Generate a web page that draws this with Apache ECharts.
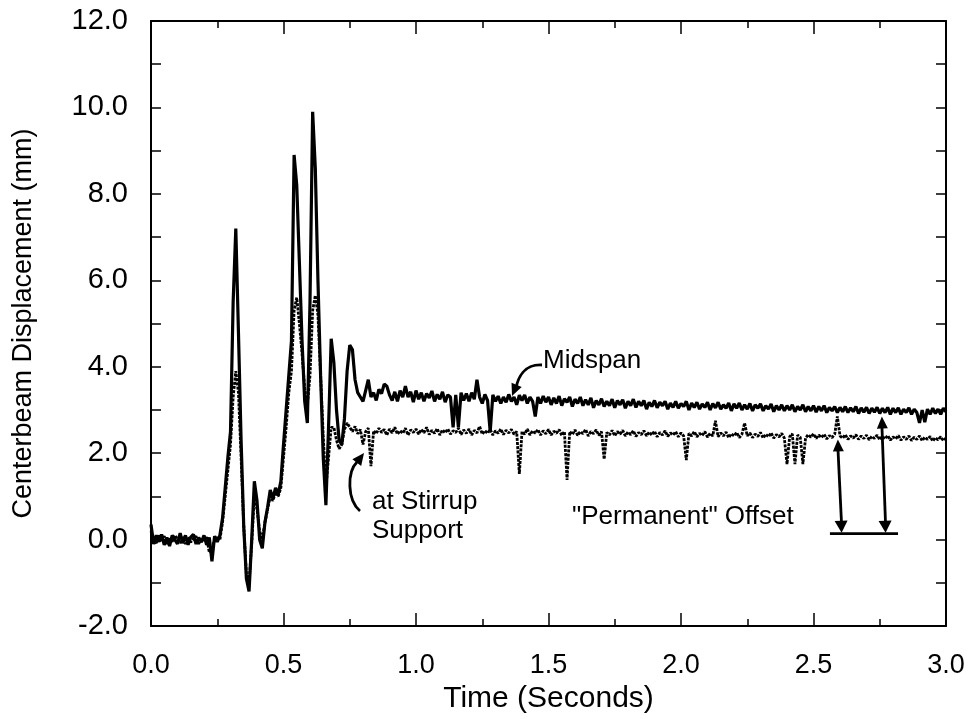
<!DOCTYPE html>
<html><head><meta charset="utf-8">
<script src="https://cdn.jsdelivr.net/npm/echarts@6/dist/echarts.min.js"></script>
<style>html,body{margin:0;padding:0;background:#fff}#c{width:973px;height:719px}</style>
</head><body><div id="c"></div>
<script>
// Time samples (seconds)
const time = [
0.00,0.01,0.02,0.03,0.04,0.05,0.06,0.07,0.08,0.09,
0.10,0.11,0.12,0.13,0.14,0.15,0.16,0.17,0.18,0.19,
0.20,0.21,0.22,0.23,0.24,0.25,0.26,0.27,0.28,0.29,
0.30,0.31,0.32,0.33,0.34,0.35,0.36,0.37,0.38,0.39,
0.40,0.41,0.42,0.43,0.44,0.45,0.46,0.47,0.48,0.49,
0.50,0.51,0.52,0.53,0.54,0.55,0.56,0.57,0.58,0.59,
0.60,0.61,0.62,0.63,0.64,0.65,0.66,0.67,0.68,0.69,
0.70,0.71,0.72,0.73,0.74,0.75,0.76,0.77,0.78,0.79,
0.80,0.81,0.82,0.83,0.84,0.85,0.86,0.87,0.88,0.89,
0.90,0.91,0.92,0.93,0.94,0.95,0.96,0.97,0.98,0.99,
1.00,1.01,1.02,1.03,1.04,1.05,1.06,1.07,1.08,1.09,
1.10,1.11,1.12,1.13,1.14,1.15,1.16,1.17,1.18,1.19,
1.20,1.21,1.22,1.23,1.24,1.25,1.26,1.27,1.28,1.29,
1.30,1.31,1.32,1.33,1.34,1.35,1.36,1.37,1.38,1.39,
1.40,1.41,1.42,1.43,1.44,1.45,1.46,1.47,1.48,1.49,
1.50,1.51,1.52,1.53,1.54,1.55,1.56,1.57,1.58,1.59,
1.60,1.61,1.62,1.63,1.64,1.65,1.66,1.67,1.68,1.69,
1.70,1.71,1.72,1.73,1.74,1.75,1.76,1.77,1.78,1.79,
1.80,1.81,1.82,1.83,1.84,1.85,1.86,1.87,1.88,1.89,
1.90,1.91,1.92,1.93,1.94,1.95,1.96,1.97,1.98,1.99,
2.00,2.01,2.02,2.03,2.04,2.05,2.06,2.07,2.08,2.09,
2.10,2.11,2.12,2.13,2.14,2.15,2.16,2.17,2.18,2.19,
2.20,2.21,2.22,2.23,2.24,2.25,2.26,2.27,2.28,2.29,
2.30,2.31,2.32,2.33,2.34,2.35,2.36,2.37,2.38,2.39,
2.40,2.41,2.42,2.43,2.44,2.45,2.46,2.47,2.48,2.49,
2.50,2.51,2.52,2.53,2.54,2.55,2.56,2.57,2.58,2.59,
2.60,2.61,2.62,2.63,2.64,2.65,2.66,2.67,2.68,2.69,
2.70,2.71,2.72,2.73,2.74,2.75,2.76,2.77,2.78,2.79,
2.80,2.81,2.82,2.83,2.84,2.85,2.86,2.87,2.88,2.89,
2.90,2.91,2.92,2.93,2.94,2.95,2.96,2.97,2.98,2.99,
3.00];

// Midspan displacement (mm)
const midspan = [
0.35,-0.1,0.1,-0.05,0.12,-0.12,0.05,-0.15,0.1,0.0,
-0.1,0.15,-0.08,0.1,-0.12,0.06,0.12,-0.1,0.05,-0.06,
0.1,-0.12,0.05,-0.5,0.08,-0.05,0.1,0.5,1.2,1.9,
2.5,5.5,7.2,4.8,2.3,0.3,-0.9,-1.2,0.0,1.35,
0.9,0.0,-0.2,0.4,0.75,1.15,0.95,1.2,1.05,1.35,
2.2,3.0,3.8,4.6,8.9,8.2,6.4,4.6,3.2,2.7,
5.5,9.9,8.6,6.0,3.8,1.9,0.8,2.6,4.65,4.1,
3.0,2.3,2.2,2.8,3.9,4.5,4.4,3.7,3.4,3.3,
3.2,3.45,3.7,3.3,3.4,3.22,3.48,3.38,3.6,3.55,
3.35,3.22,3.42,3.2,3.45,3.3,3.55,3.3,3.42,3.18,
3.45,3.25,3.4,3.2,3.38,3.28,3.44,3.2,3.36,3.25,
3.42,3.18,3.35,3.3,2.6,3.35,2.6,3.4,3.22,3.38,
3.2,3.4,3.25,3.7,3.3,3.15,3.36,3.22,2.5,3.35,
3.2,3.32,3.15,3.3,3.18,3.36,3.2,3.3,3.12,3.34,
3.22,3.35,3.15,3.3,3.2,2.85,3.3,3.15,3.32,3.18,
3.3,3.12,3.28,3.15,3.32,3.1,3.26,3.18,3.3,3.08,
3.25,3.15,3.3,3.1,3.24,3.12,3.28,3.05,3.22,3.12,
3.26,3.08,3.2,3.1,3.25,3.05,3.22,3.12,3.24,3.04,
3.2,3.1,3.25,3.06,3.2,3.1,3.22,3.02,3.18,3.08,
3.22,3.05,3.18,3.1,3.2,3.02,3.16,3.06,3.2,3.04,
3.15,3.08,3.2,3.0,3.16,3.06,3.18,3.02,3.14,3.06,
3.18,3.0,3.15,3.05,3.18,3.02,3.12,3.04,3.16,2.98,
3.14,3.04,3.16,3.0,3.12,3.02,3.15,2.98,3.12,3.04,
3.14,2.98,3.1,3.02,3.14,2.96,3.1,3.0,3.12,2.98,
3.1,3.0,3.12,2.96,3.08,3.0,3.12,2.96,3.08,2.98,
3.1,2.95,3.08,2.98,3.1,2.94,3.06,2.98,3.08,2.94,
3.06,2.96,3.08,2.94,3.05,2.96,3.08,2.92,3.05,2.95,
3.06,2.92,3.04,2.95,3.06,2.92,3.04,2.94,3.06,2.9,
3.04,2.94,3.05,2.9,3.02,2.94,3.05,2.9,3.02,2.94,
2.7,3.0,2.72,3.02,2.9,3.04,2.92,3.02,2.9,3.04,
2.96];

// Displacement at stirrup support (mm)
const stirrup = [
0.2,0.0,-0.08,0.1,-0.05,0.08,-0.1,0.05,-0.05,0.1,
0.02,-0.08,0.06,-0.1,0.05,-0.06,0.02,0.08,-0.1,0.04,
-0.05,0.06,-0.3,-0.2,0.0,0.05,0.0,0.4,1.0,1.6,
2.2,3.3,3.9,3.4,1.9,0.3,-0.8,-1.0,-0.1,1.0,
0.7,0.2,0.0,0.4,0.7,1.0,0.9,1.1,1.0,1.2,
1.9,2.6,3.4,3.9,5.3,5.6,5.0,4.3,3.5,3.1,
3.8,5.3,5.65,5.2,3.8,2.4,1.2,1.9,2.6,2.6,
2.3,2.1,2.2,2.55,2.7,2.6,2.5,2.62,2.45,2.55,
2.2,2.5,2.58,1.7,2.52,2.45,2.58,2.48,2.55,2.42,
2.56,2.47,2.6,2.44,2.52,2.46,2.58,2.42,2.54,2.48,
2.56,2.44,2.55,2.47,2.6,2.43,2.53,2.46,2.57,2.42,
2.54,2.47,2.56,2.44,2.52,2.48,2.58,2.43,2.54,2.46,
2.56,2.42,2.53,2.47,2.62,2.44,2.52,2.46,2.55,2.42,
2.52,2.46,2.56,2.43,2.53,2.47,2.55,2.44,2.5,1.52,
2.5,2.44,2.56,2.42,2.52,2.46,2.55,2.42,2.52,2.45,
2.55,2.42,2.51,2.46,2.55,2.41,2.5,1.38,2.5,2.43,
2.54,2.41,2.5,2.45,2.55,2.4,2.5,2.45,2.54,2.41,
2.5,1.86,2.48,2.42,2.53,2.4,2.5,2.44,2.53,2.4,
2.49,2.43,2.52,2.39,2.48,2.43,2.52,2.4,2.49,2.42,
2.51,2.38,2.48,2.42,2.52,2.39,2.47,2.42,2.5,2.38,
2.47,2.4,1.84,2.46,2.4,2.5,2.38,2.46,2.41,2.5,
2.37,2.46,2.4,2.75,2.38,2.47,2.4,2.49,2.36,2.45,
2.4,2.48,2.36,2.44,2.7,2.4,2.47,2.36,2.44,2.39,
2.48,2.35,2.44,2.38,2.47,2.35,2.43,2.38,2.46,2.35,
1.75,2.38,2.45,1.75,2.42,2.37,1.75,2.35,2.43,2.37,
2.45,2.34,2.42,2.36,2.44,2.33,2.41,2.36,2.44,2.85,
2.4,2.35,2.43,2.32,2.4,2.35,2.43,2.32,2.4,2.34,
2.42,2.31,2.39,2.34,2.42,2.31,2.39,2.33,2.41,2.3,
2.38,2.33,2.41,2.3,2.38,2.32,2.4,2.29,2.37,2.32,
2.4,2.29,2.37,2.32,2.39,2.28,2.36,2.31,2.38,2.29,
2.35];

const xTickLabels = ['0.0','0.5','1.0','1.5','2.0','2.5','3.0'];
const yTickLabels = ['-2.0','0.0','2.0','4.0','6.0','8.0','10.0','12.0'];

const FONT = '"Liberation Sans", Arial, Helvetica, sans-serif';
const chart = echarts.init(document.getElementById('c'), null, {renderer: 'canvas'});

const axisLine = {show: true, onZero: false, lineStyle: {color: '#000', width: 2}};
const xBase = {type: 'value', min: 0, max: 3, interval: 0.5, splitLine: {show: false},
  axisLine: axisLine,
  axisTick: {show: true, inside: true, length: 13, lineStyle: {color: '#000', width: 1.5}},
  minorTick: {show: true, splitNumber: 2, length: 7, lineStyle: {color: '#000', width: 1.5}},
  minorSplitLine: {show: false}};
const yBase = {type: 'value', min: -2, max: 12, interval: 1, splitLine: {show: false},
  axisLine: axisLine,
  axisTick: {show: true, inside: true, length: 10, lineStyle: {color: '#000', width: 1.5}}};

chart.setOption({
  animation: false,
  backgroundColor: '#fff',
  grid: {left: 151, right: 27, top: 21, bottom: 89, containLabel: false},
  xAxis: [
    Object.assign({}, xBase, {position: 'bottom',
      axisLabel: {show: true, color: '#000', fontSize: 27, fontFamily: FONT, margin: 26,
        formatter: v => { const i = Math.round(v / 0.5); return xTickLabels[i] || ''; }},
      name: 'Time (Seconds)', nameLocation: 'middle', nameGap: 54,
      nameTextStyle: {color: '#000', fontSize: 30, fontFamily: FONT}}),
    Object.assign({}, xBase, {position: 'top', axisLabel: {show: false}})
  ],
  yAxis: [
    Object.assign({}, yBase, {position: 'left',
      axisLabel: {show: true, color: '#000', fontSize: 29, fontFamily: FONT, margin: 23,
        formatter: v => { const r = Math.round(v); if (r % 2 !== 0) return ''; return yTickLabels[(r + 2) / 2] || ''; }},
      name: 'Centerbeam Displacement (mm)', nameLocation: 'middle', nameGap: 114,
      nameTextStyle: {color: '#000', fontSize: 27, fontFamily: FONT}}),
    Object.assign({}, yBase, {position: 'right', axisLabel: {show: false}})
  ],
  series: [
    {name: 'Midspan', type: 'line', xAxisIndex: 0, yAxisIndex: 0, showSymbol: false, silent: true,
      data: time.map((t, i) => [t, midspan[i]]),
      lineStyle: {color: '#000', width: 3.2}, z: 3},
    {name: 'at Stirrup Support', type: 'line', xAxisIndex: 0, yAxisIndex: 0, showSymbol: false, silent: true,
      data: time.map((t, i) => [t, stirrup[i]]),
      lineStyle: {color: '#000', width: 2.8, type: [3, 1.2]}, z: 2}
  ]
});

// Annotations (anchored in data coordinates)
function px(t, v) { return chart.convertToPixel({xAxisIndex: 0, yAxisIndex: 0}, [t, v]); }
function head(tip, from, len, half) {
  const dx = tip[0] - from[0], dy = tip[1] - from[1];
  const L = Math.hypot(dx, dy), ux = dx / L, uy = dy / L;
  const bx = tip[0] - ux * len, by = tip[1] - uy * len;
  return {type: 'polygon', shape: {points: [tip, [bx - uy * half, by + ux * half], [bx + uy * half, by - ux * half]]},
    style: {fill: '#000'}};
}
const g = [];
const txt = (x, y, s) => ({type: 'text', x: x, y: y,
  style: {text: s, fill: '#000', fontSize: 26, fontFamily: FONT, align: 'left', verticalAlign: 'middle'}});

// Midspan label + curved arrow
g.push(txt(543, 361, 'Midspan'));
g.push({type: 'bezierCurve', shape: {x1: 542, y1: 365, cpx1: 524, cpy1: 364, cpx2: 518, cpy2: 378, x2: 516, y2: 388},
  style: {stroke: '#000', lineWidth: 2.8, fill: null}});
g.push(head([512, 396], [517, 384], 12, 5.5));

// Stirrup label + curved arrow
g.push(txt(372, 502, 'at Stirrup'));
g.push(txt(372, 531, 'Support'));
g.push({type: 'bezierCurve', shape: {x1: 360, y1: 511, cpx1: 347, cpy1: 500, cpx2: 347, cpy2: 472, x2: 357, y2: 462},
  style: {stroke: '#000', lineWidth: 2.8, fill: null}});
g.push(head([364, 453], [355, 465], 12, 5.5));

// "Permanent" Offset
g.push(txt(572, 517, '"Permanent" Offset'));
const base0 = px(2.562, 0.14), base1 = px(2.819, 0.14);
g.push({type: 'line', shape: {x1: base0[0], y1: base0[1], x2: base1[0], y2: base1[1]}, style: {stroke: '#000', lineWidth: 2.8}});
[[2.592, 2.32, 2.606], [2.758, 2.85, 2.772]].forEach(a => {
  const top = px(a[0], a[1]), bot = px(a[2], 0.16);
  g.push({type: 'line', shape: {x1: top[0], y1: top[1] + 8, x2: bot[0], y2: bot[1] - 8}, style: {stroke: '#000', lineWidth: 2.8}});
  g.push(head(top, [top[0] + 0.5, top[1] + 12], 12, 5.5));
  g.push(head(bot, [bot[0] - 0.5, bot[1] - 12], 12, 6.5));
});
chart.setOption({graphic: g});
</script>
</body></html>
